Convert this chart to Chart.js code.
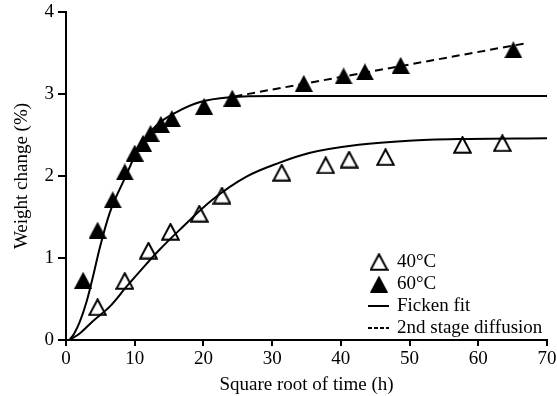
<!DOCTYPE html>
<html>
<head>
<meta charset="utf-8">
<script src="https://cdn.jsdelivr.net/npm/chart.js@4/dist/chart.umd.min.js"></script>
<style>
  html, body { margin: 0; padding: 0; background: #fff; overflow: hidden; }
  #wrap { width: 557px; height: 396px; }
</style>
</head>
<body>
<div id="wrap"><canvas id="c" width="557" height="396"></canvas></div>
<script>
// measured points
const t40 = [4.6, 8.55, 12.0, 15.2, 19.4, 22.7, 31.4, 37.8, 41.2, 46.5, 57.7, 63.5];
const w40 = [0.40, 0.72, 1.09, 1.32, 1.54, 1.76, 2.04, 2.13, 2.20, 2.23, 2.38, 2.40];
const t60 = [2.5, 4.6, 6.8, 8.55, 10.0, 11.2, 12.3, 13.8, 15.4, 20.1, 24.2, 34.6, 40.4, 43.5, 48.7, 65.1];
const w60 = [0.73, 1.34, 1.71, 2.05, 2.28, 2.40, 2.52, 2.63, 2.70, 2.85, 2.95, 3.13, 3.22, 3.27, 3.35, 3.54];

// Ficken fit curves
const fit40T = [0.5, 2.0, 3.9, 6.4, 8.8, 11.2, 13.6, 16.5, 21.3, 26.2, 31, 35.4, 42.6, 49.9, 57.1, 70];
const fit40W = [0, 0.08, 0.23, 0.41, 0.65, 0.88, 1.10, 1.34, 1.71, 1.99, 2.16, 2.28, 2.38, 2.43, 2.45, 2.46];
const fit60T = [0.5, 1.2, 2.0, 3.0, 4.0, 4.9, 6.4, 8.55, 10.7, 13.2, 16.1, 19.4, 24, 30, 70];
const fit60W = [0, 0.08, 0.22, 0.47, 0.80, 1.12, 1.56, 1.97, 2.36, 2.62, 2.78, 2.90, 2.96, 2.975, 2.975];

// 2nd stage diffusion
const dashT = [24.5, 67];
const dashW = [2.97, 3.62];

const xTicks = [0, 10, 20, 30, 40, 50, 60, 70];
const yTicks = [0, 1, 2, 3, 4];

const FONT = { family: "Liberation Serif", size: 19 };

function pairs(xs, ys) { return xs.map((x, i) => ({ x, y: ys[i] })); }

// triangle markers (a bit taller than equilateral, like the figure)
function triMark(w, h, filled) {
  const c = document.createElement("canvas");
  c.width = w; c.height = h;
  const g = c.getContext("2d");
  const m = filled ? 0 : 1.2;
  g.beginPath();
  g.moveTo(w / 2, m);
  g.lineTo(w - m, h - m);
  g.lineTo(m, h - m);
  g.closePath();
  if (filled) { g.fillStyle = "#000"; g.fill(); }
  else { g.fillStyle = "#fff"; g.fill(); g.lineWidth = 2; g.strokeStyle = "#000"; g.stroke(); }
  return c;
}
const openTri = triMark(19, 18, false);
const fullTri = triMark(18, 17, true);

const legendPlugin = {
  id: "legendBox",
  afterDraw(chart) {
    const ctx = chart.ctx;
    ctx.save();
    ctx.font = FONT.size + "px " + FONT.family;
    ctx.fillStyle = "#000";
    ctx.textBaseline = "middle";
    const tx = 397, sx = 379;
    const rows = [262, 284, 306, 328];
    ctx.drawImage(openTri, sx - 9.5, rows[0] - 9);
    ctx.drawImage(fullTri, sx - 9, rows[1] - 8.5);
    ctx.strokeStyle = "#000"; ctx.lineWidth = 2;
    ctx.beginPath(); ctx.moveTo(368, rows[2]); ctx.lineTo(389, rows[2]); ctx.stroke();
    ctx.setLineDash([4, 2]);
    ctx.beginPath(); ctx.moveTo(368, rows[3]); ctx.lineTo(389, rows[3]); ctx.stroke();
    ctx.setLineDash([]);
    ctx.fillText("40°C", tx, rows[0]);
    ctx.fillText("60°C", tx, rows[1]);
    ctx.fillText("Ficken fit", tx, rows[2]);
    ctx.fillText("2nd stage diffusion", tx, rows[3]);
    ctx.restore();
  },
};

new Chart(document.getElementById("c"), {
  type: "scatter",
  data: {
    datasets: [
      { label: "Ficken fit 40", data: pairs(fit40T, fit40W), showLine: true,
        borderColor: "#000", borderWidth: 2, pointRadius: 0, cubicInterpolationMode: "monotone" },
      { label: "Ficken fit 60", data: pairs(fit60T, fit60W), showLine: true,
        borderColor: "#000", borderWidth: 2, pointRadius: 0, cubicInterpolationMode: "monotone" },
      { label: "2nd stage diffusion", data: pairs(dashT, dashW), showLine: true,
        borderColor: "#000", borderWidth: 2, borderDash: [8, 5], pointRadius: 0 },
      { label: "40°C", data: pairs(t40, w40), pointStyle: openTri, pointRadius: 9 },
      { label: "60°C", data: pairs(t60, w60), pointStyle: fullTri, pointRadius: 9 },
    ],
  },
  options: {
    responsive: false, animation: false,
    layout: { padding: { top: 12, right: 6, left: 0, bottom: 0 } },
    plugins: { legend: { display: false }, tooltip: { enabled: false } },
    scales: {
      x: {
        type: "linear", min: 0, max: 70,
        afterBuildTicks: s => { s.ticks = xTicks.map(v => ({ value: v })); },
        afterFit: s => { s.height = 56; s.paddingLeft = 0; s.paddingRight = 0; },
        border: { display: true, color: "#000", width: 2 },
        grid: { drawOnChartArea: false, drawTicks: true, tickLength: 6, color: "#000", lineWidth: 2 },
        ticks: { color: "#000", font: FONT, padding: 2, maxRotation: 0 },
        title: { display: true, text: "Square root of time (h)", color: "#000", font: FONT,
          padding: { top: 0, bottom: 0 } },
      },
      y: {
        type: "linear", min: 0, max: 4,
        afterBuildTicks: s => { s.ticks = yTicks.map(v => ({ value: v })); },
        afterFit: s => { s.width = 66; s.paddingTop = 0; s.paddingBottom = 0; },
        border: { display: true, color: "#000", width: 2 },
        grid: { drawOnChartArea: false, drawTicks: true, tickLength: 8, color: "#000", lineWidth: 2 },
        ticks: { color: "#000", font: FONT, padding: 4 },
        title: { display: true, text: "Weight change (%)", color: "#000", font: FONT,
          padding: { top: 11, bottom: 0 } },
      },
    },
  },
  plugins: [legendPlugin],
});
</script>
</body>
</html>
